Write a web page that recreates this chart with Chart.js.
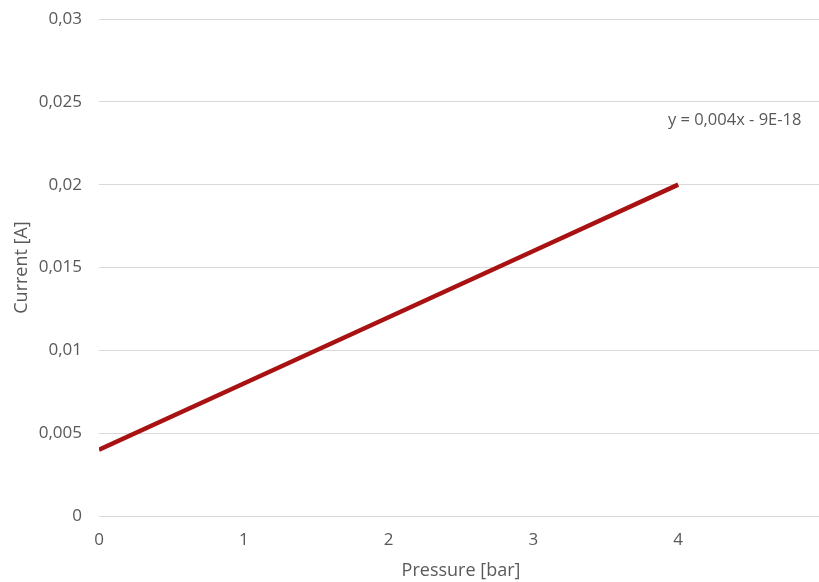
<!DOCTYPE html>
<html>
<head>
<meta charset="utf-8">
<script src="https://cdn.jsdelivr.net/npm/chart.js@4"></script>
<style>
  html, body { margin: 0; padding: 0; background: #fff; overflow: hidden; }
  #wrap { width: 823px; height: 582px; }
</style>
</head>
<body>
<div id="wrap"><canvas id="chart" width="823" height="582"></canvas></div>
<script>
/* data */
const pressure = [0, 1, 2, 3, 4];
const current  = [0.004, 0.008, 0.012, 0.016, 0.02];
const trendLabel = 'y = 0,004x - 9E-18';
const trendLabelAt = { x: 4.39, y: 0.0239 };

const FONT = "'Open Sans', 'Noto Sans', sans-serif";
const GREY = '#595959';

const fmt = v => String(+v.toFixed(3)).replace('.', ',');

const trendText = {
  id: 'trendText',
  afterDatasetsDraw(c) {
    const { ctx, scales } = c;
    ctx.save();
    ctx.font = '16.5px ' + FONT;
    ctx.fillStyle = GREY;
    ctx.textAlign = 'center';
    ctx.textBaseline = 'middle';
    ctx.fillText(trendLabel, scales.x.getPixelForValue(trendLabelAt.x), scales.y.getPixelForValue(trendLabelAt.y));
    ctx.restore();
  }
};

new Chart(document.getElementById('chart').getContext('2d'), {
  type: 'line',
  data: {
    datasets: [{
      data: pressure.map((p, i) => ({ x: p, y: current[i] })),
      borderColor: '#a81212',
      borderWidth: 4.5,
      pointRadius: 0,
      fill: false,
      tension: 0
    }]
  },
  options: {
    responsive: false,
    animation: false,
    layout: { padding: { top: 19, left: 11, right: 0, bottom: 0 } },
    plugins: { legend: { display: false }, tooltip: { enabled: false } },
    scales: {
      x: {
        type: 'linear',
        min: 0, max: 5,
        grid: { display: false, drawTicks: false },
        border: { display: false },
        ticks: {
          stepSize: 1,
          padding: 14,
          color: GREY,
          font: { family: FONT, size: 17 },
          callback: v => (v > 4 ? '' : String(v))
        },
        title: { display: true, text: 'Pressure [bar]', color: GREY, font: { family: FONT, size: 18 }, padding: 0 },
        afterFit: s => { s.height = 66; s.paddingLeft = 0; s.paddingRight = 0; }
      },
      y: {
        min: 0, max: 0.03,
        grid: { color: '#d9d9d9', lineWidth: 1, drawTicks: false },
        border: { display: false },
        ticks: {
          stepSize: 0.005,
          padding: 17,
          color: GREY,
          font: { family: FONT, size: 17 },
          callback: v => fmt(v)
        },
        title: { display: true, text: 'Current [A]', color: GREY, font: { family: FONT, size: 18 }, padding: 0 },
        afterFit: s => { s.width = 88; s.paddingTop = 0; s.paddingBottom = 0; }
      }
    }
  },
  plugins: [trendText]
});
</script>
</body>
</html>
